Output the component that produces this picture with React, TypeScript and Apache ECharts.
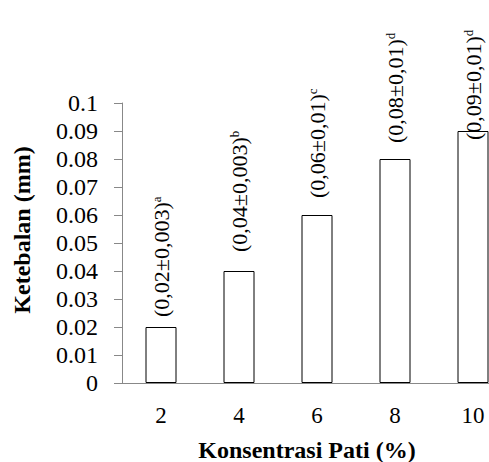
import React, { useEffect, useRef } from "react";
import * as echarts from "echarts";

const categories = ["2", "4", "6", "8", "10"];
const values = [0.02, 0.04, 0.06, 0.08, 0.09];
const labelMain = ["(0,02±0,003)", "(0,04±0,003)", "(0,06±0,01)", "(0,08±0,01)", "(0,09±0,01)"];
const labelSup = ["a", "b", "c", "d", "d"];

const labelGaps = [10, 19, 17, 16, -9];
const FONT = "Liberation Serif";

export default function App() {
  const ref = useRef<HTMLDivElement>(null);
  useEffect(() => {
    if (!ref.current) return;
    const chart = echarts.init(ref.current, null, { renderer: "svg" });
    chart.setOption({
      animation: false,
      backgroundColor: "#ffffff",
      textStyle: { fontFamily: FONT },
      grid: {
        left: 122,
        top: 103,
        width: 390,
        height: 280,
        containLabel: false,
        outerBoundsMode: "none",
      },
      xAxis: {
        type: "category",
        data: categories,
        boundaryGap: true,
        axisLine: { lineStyle: { color: "#888888", width: 1 } },
        axisTick: { show: false },
        axisLabel: { color: "#000", fontFamily: FONT, fontSize: 23, margin: 21 },
        name: "Konsentrasi Pati (%)",
        nameLocation: "middle",
        nameGap: 55,
        nameTextStyle: {
          color: "#000",
          fontFamily: FONT,
          fontSize: 24,
          fontWeight: "bold",
          padding: [0, 20, 0, 0],
        },
      },
      yAxis: {
        type: "value",
        min: 0,
        max: 0.1,
        interval: 0.01,
        splitLine: { show: false },
        axisLine: { show: true, lineStyle: { color: "#888888", width: 1 } },
        axisTick: { show: true, length: 8, lineStyle: { color: "#888888" } },
        axisLabel: {
          color: "#000",
          fontFamily: FONT,
          fontSize: 24,
          margin: 24,
          formatter: (v: number) => String(Math.round(v * 100) / 100),
        },
        name: "Ketebalan (mm)",
        nameLocation: "middle",
        nameGap: 88,
        nameTextStyle: {
          color: "#000",
          fontFamily: FONT,
          fontSize: 24,
          fontWeight: "bold",
          padding: [0, 0, 0, 26],
        },
      },
      series: [
        {
          type: "bar",
          barWidth: 31,
          data: values.map((v, i) => ({
            value: v,
            label: {
              show: true,
              position: "top",
              distance: labelGaps[i],
              rotate: 90,
              align: "left",
              verticalAlign: "middle",
              fontFamily: FONT,
              formatter: `{m|${labelMain[i]}}{s|${labelSup[i]}}`,
              rich: {
                m: { fontFamily: FONT, fontSize: 22, color: "#000" },
                s: { fontFamily: FONT, fontSize: 13, color: "#000", verticalAlign: "top" },
              },
            },
          })),
          itemStyle: { color: "#ffffff", borderColor: "#000000", borderWidth: 1 },
        },
      ],
    });
    return () => chart.dispose();
  }, []);
  return <div ref={ref} style={{ width: 489, height: 462, position: "absolute", left: 0, top: 0 }} />;
}
